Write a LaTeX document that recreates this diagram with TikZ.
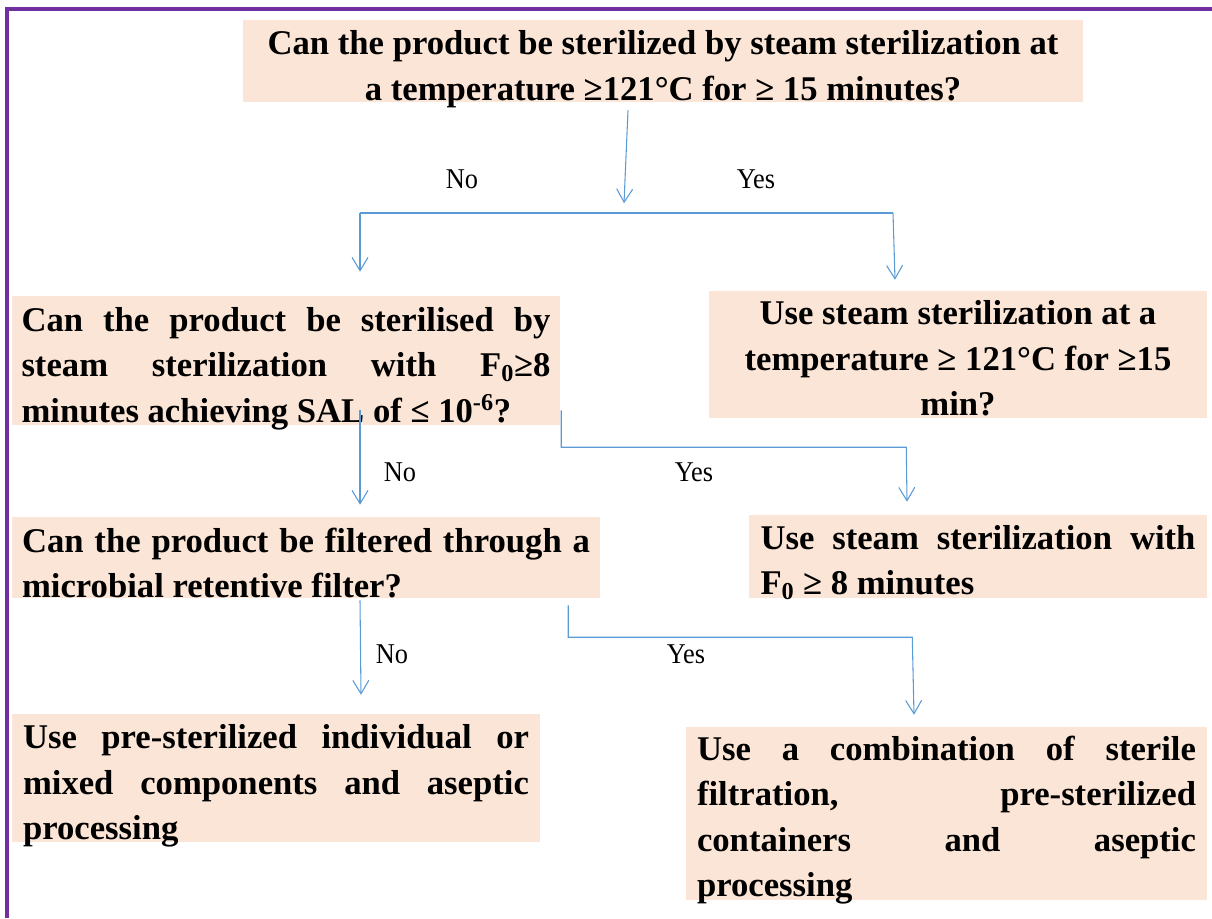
\documentclass[tikz,border=0pt]{standalone}
\usepackage{fontspec}
\setmainfont{Liberation Serif}
\newfontfamily\lblfont[FakeStretch=0.92]{Liberation Serif}
\usetikzlibrary{arrows.meta,calc}
\definecolor{boxfill}{HTML}{FBE5D6}
\definecolor{lineblue}{HTML}{5B9BD5}
\definecolor{framepurple}{HTML}{7030A0}
\newcommand\jline[2]{\makebox[#1][s]{#2}}
\newcommand\lline[2]{\makebox[#1][l]{#2}}
\begin{document}
\begin{tikzpicture}[x=0.75pt,y=-0.75pt]
\tikzset{
  box/.style={fill=boxfill, inner sep=0pt},
  txt/.style={inner sep=0pt, align=center, font=\bfseries\fontsize{26}{34}\selectfont},
  lbl/.style={font=\lblfont\fontsize{21.5}{24}\selectfont, inner sep=0pt},
  conn/.style={draw=lineblue, line width=0.8pt},
  arr/.style={conn, -{Straight Barb[length=10pt,width=12pt]}},
  frame/.style={draw=framepurple, line width=2.3pt}
}
\useasboundingbox (0,0) rectangle (1212,918);
\draw[frame] (7,918) -- (7,9) -- (1212,9);

\node[box, minimum width={840*0.75pt}, minimum height={82*0.75pt}] (b1) at (663,61) {};
\node[box, minimum width={548*0.75pt}, minimum height={129*0.75pt}] (b2) at (286,360.5) {};
\node[box, minimum width={498*0.75pt}, minimum height={127*0.75pt}] (b3) at (958,354.5) {};
\node[box, minimum width={588*0.75pt}, minimum height={81*0.75pt}] (b4) at (306,557.5) {};
\node[box, minimum width={458*0.75pt}, minimum height={83*0.75pt}] (b5) at (978,556.5) {};
\node[box, minimum width={528*0.75pt}, minimum height={128*0.75pt}] (b6) at (276,778) {};
\node[box, minimum width={521*0.75pt}, minimum height={173*0.75pt}] (b7) at (946.5,813.5) {};

\node[txt] (t1) at ([yshift=-6pt]b1.center)
  {Can the product be sterilized by steam sterilization at\\a temperature ≥121°C for ≥ 15 minutes?};
\node[txt] (t2) at ([yshift=-6pt]b2.center)
  {\jline{396.75pt}{Can the product be sterilised by}\\
   \jline{396.75pt}{steam sterilization with F\textsubscript{0}≥8}\\
   \lline{396.75pt}{minutes achieving SAL of ≤ 10\textsuperscript{-6}?}};
\node[txt] (t3) at ([yshift=-3pt]b3.center)
  {Use steam sterilization at a\\temperature ≥ 121°C for ≥15\\min?};
\node[txt] (t4) at ([yshift=-4pt]b4.center)
  {\jline{426pt}{Can the product be filtered through a}\\
   \lline{426pt}{microbial retentive filter?}};
\node[txt] (t5) at ([yshift=-4.5pt]b5.center)
  {\jline{326.25pt}{Use steam sterilization with}\\
   \lline{326.25pt}{F\textsubscript{0} ≥ 8 minutes}};
\node[txt] (t6) at ([yshift=-6pt]b6.center)
  {\jline{379.5pt}{Use pre-sterilized individual or}\\
   \jline{379.5pt}{mixed components and aseptic}\\
   \lline{379.5pt}{processing}};
\node[txt] (t7) at ([yshift=-5pt]b7.center)
  {\jline{374.25pt}{Use a combination of sterile}\\
   \jline{374.25pt}{filtration, pre-sterilized}\\
   \jline{374.25pt}{containers and aseptic}\\
   \lline{374.25pt}{processing}};

\coordinate (sL) at (360,213);
\coordinate (sR) at (893,213);
\draw[arr] ($(b1.south)+(-35,8)$) -- ($(b1.south)+(-39,101)$);
\draw[conn] (sL) -- (sR);
\draw[arr] (sL) -- ($(b2.north -| sL)+(0,-24)$);
\draw[arr] (sR) -- ($(b3.north -| sR)+(2,-11)$);

\draw[arr] ($(b2.south -| sL)+(0,-15)$) -- ($(b4.north -| sL)+(0,-12)$);
\draw[arr] ($(b2.south east)+(1,-15)$) |- ($(b2.south east)+(346,22)$) -- ($(b5.north)+(-71,-13)$);

\draw[arr] ($(b4.south -| sL)+(0,2)$) -- ($(b6.north -| sL)+(1,-19)$);
\draw[arr] ($(b4.south east)+(-32,7)$) |- ($(b4.south east)+(312,39)$) -- ($(b7.north)+(-32.5,-12)$);

\node[lbl] (n1) at (462,179) {No};
\node[lbl] (y1) at (756,179) {Yes};
\node[lbl] (n2) at (400,472) {No};
\node[lbl] (y2) at (694,472) {Yes};
\node[lbl] (n3) at (392,654) {No};
\node[lbl] (y3) at (686,654) {Yes};
\end{tikzpicture}
\end{document}
